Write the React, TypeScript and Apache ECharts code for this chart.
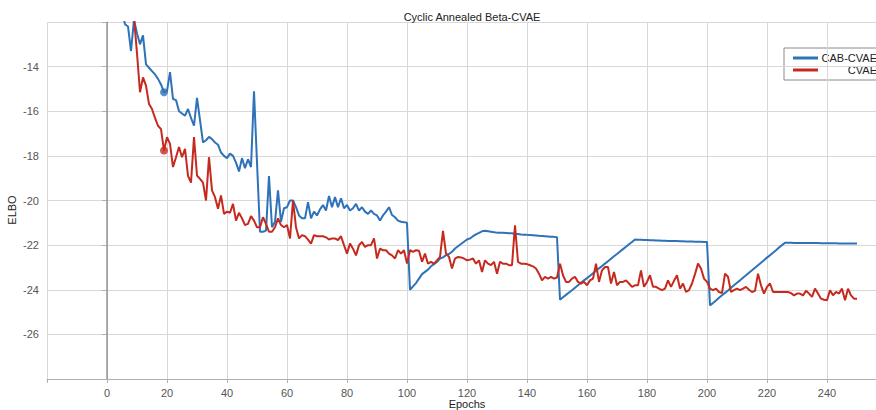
import React, { useEffect, useRef } from "react";
import * as echarts from "echarts";

const title = "Cyclic Annealed Beta-CVAE";
const seriesNames = ["CAB-CVAE", "CVAE"];
const seriesColors = ["#2e72b8", "#c62a1e"];

// epochs 1..250
const epochs: number[] = Array.from({ length: 250 }, (_, i) => i + 1);

const cabCvae: number[] = [
  -9.0, -9.8, -10.5, -11.0, -11.5, -12.1, -12.2, -13.3, -11.9, -12.5,
  -13.0, -12.6, -13.9, -14.05, -14.2, -14.35, -14.55, -14.8, -15.15, -15.1,
  -14.25, -15.45, -15.5, -16.0, -16.1, -16.2, -15.9, -16.3, -16.65, -15.4,
  -16.4, -17.4, -17.3, -17.15, -17.25, -17.4, -17.5, -17.85, -18.0, -18.1,
  -17.9, -18.0, -18.3, -18.7, -18.1, -18.55, -18.15, -18.5, -15.1, -18.3,
  -21.4, -21.4, -21.35, -18.9, -21.2, -20.95, -19.55, -20.95, -20.35, -20.3,
  -20.0, -20.0, -20.3, -20.67, -20.8, -20.8, -20.07, -20.8, -20.5, -20.67,
  -20.4, -20.2, -20.45, -19.8, -20.3, -19.85, -20.3, -19.9, -20.35, -20.2,
  -20.45, -20.35, -20.15, -20.45, -20.3, -20.5, -20.6, -20.45, -20.6, -20.67,
  -20.9, -20.67, -20.5, -20.3, -20.65, -20.75, -20.9, -20.95, -20.97, -21.0,
  -24.0, -23.85, -23.7, -23.5, -23.3, -23.2, -23.1, -22.95, -22.85, -22.75,
  -22.6, -22.55, -22.45, -22.4, -22.3, -22.15, -22.05, -21.95, -21.85, -21.75,
  -21.7, -21.6, -21.52, -21.45, -21.38, -21.36, -21.38, -21.4, -21.42, -21.44,
  -21.45, -21.45, -21.46, -21.47, -21.47, -21.5, -21.5, -21.52, -21.53, -21.54,
  -21.55, -21.56, -21.57, -21.58, -21.59, -21.6, -21.61, -21.62, -21.63, -21.65,
  -24.45, -24.34, -24.23, -24.12, -24.02, -23.91, -23.8, -23.69, -23.58, -23.48,
  -23.37, -23.26, -23.15, -23.04, -22.94, -22.83, -22.72, -22.61, -22.5, -22.4,
  -22.29, -22.18, -22.07, -21.96, -21.86, -21.75, -21.76, -21.76, -21.77, -21.77,
  -21.78, -21.78, -21.79, -21.79, -21.8, -21.8, -21.81, -21.81, -21.82, -21.82,
  -21.83, -21.83, -21.84, -21.84, -21.84, -21.85, -21.85, -21.85, -21.86, -21.86,
  -24.7, -24.59, -24.48, -24.36, -24.25, -24.14, -24.03, -23.91, -23.8, -23.69,
  -23.58, -23.46, -23.35, -23.24, -23.13, -23.01, -22.9, -22.79, -22.68, -22.56,
  -22.45, -22.34, -22.23, -22.11, -22.0, -21.89, -21.89, -21.89, -21.9, -21.9,
  -21.9, -21.9, -21.91, -21.91, -21.91, -21.91, -21.91, -21.92, -21.92, -21.92,
  -21.92, -21.92, -21.92, -21.93, -21.93, -21.93, -21.93, -21.93, -21.93, -21.93,
];

const cvae: number[] = [
  -8.5, -9.2, -9.8, -10.3, -10.8, -11.2, -11.6, -11.9, -11.8, -13.4,
  -15.15, -14.48, -14.85, -15.67, -15.9, -16.3, -16.65, -16.8, -17.76, -17.16,
  -17.46, -18.5, -18.06, -17.6, -18.06, -17.68, -18.9, -19.2, -17.16, -18.88,
  -19.03, -19.2, -20.0, -18.06, -19.55, -19.85, -20.37, -19.77, -20.6, -20.5,
  -20.55, -20.15, -20.9, -20.55, -20.8, -21.1, -21.05, -20.7, -20.9, -21.2,
  -21.2, -20.75, -21.05, -21.4, -21.4, -21.2, -20.8, -21.1, -21.2, -21.1,
  -21.7, -20.0, -21.2, -21.7, -21.55, -21.6, -21.75, -21.93, -21.55, -21.6,
  -21.6, -21.6, -21.65, -21.75, -21.7, -21.7, -21.78, -21.6, -22.0, -22.38,
  -21.93, -22.16, -22.46, -22.0, -21.86, -22.08, -22.0, -22.0, -21.7, -22.6,
  -22.16, -22.23, -22.23, -22.38, -22.46, -22.6, -22.23, -22.38, -22.23, -22.83,
  -22.23, -22.3, -22.23, -22.25, -22.75, -22.38, -22.83, -22.75, -22.83, -22.68,
  -22.53, -21.36, -22.38, -22.53, -23.05, -22.6, -22.53, -22.55, -22.6, -22.68,
  -22.65, -22.6, -22.83, -22.68, -23.2, -22.68, -22.83, -22.9, -22.75, -23.28,
  -22.75, -22.83, -22.83, -22.9, -22.9, -21.11, -22.75, -22.83, -22.83, -22.85,
  -22.9, -22.95, -23.05, -23.28, -23.58, -23.42, -23.5, -23.42, -23.5, -23.45,
  -22.83, -23.35, -23.65, -23.65, -23.5, -23.42, -23.65, -23.72, -23.65, -23.8,
  -23.58, -23.5, -22.83, -23.65, -23.13, -22.98, -22.98, -23.72, -23.2, -23.8,
  -23.65, -23.65, -23.58, -23.72, -23.87, -23.8, -23.8, -23.13, -23.87, -23.65,
  -23.35, -23.87, -23.87, -23.95, -24.02, -23.95, -23.58, -23.87, -23.6, -23.35,
  -23.95, -23.72, -24.1, -24.02, -23.72, -23.3, -22.83, -23.05, -23.5, -23.65,
  -23.95, -24.02, -23.95, -24.1, -24.15, -23.28, -23.42, -24.1, -24.02, -23.95,
  -24.02, -23.95, -23.87, -24.0, -24.1, -24.05, -23.28, -23.8, -24.17, -23.87,
  -23.72, -24.1, -24.1, -24.1, -24.1, -24.1, -24.1, -24.15, -24.25, -24.17,
  -24.17, -24.25, -24.05, -24.17, -24.32, -23.95, -24.17, -24.4, -24.45, -24.47,
  -24.02, -24.25, -24.1, -24.17, -23.95, -24.47, -23.95, -24.25, -24.4, -24.4,
];

// highlighted points
const markerEpoch = [19, 19];
const markerValue = [-15.15, -17.76];

const xTickLabels = [0, 20, 40, 60, 80, 100, 120, 140, 160, 180, 200, 220, 240];
const yTickLabels = [-14, -16, -18, -20, -22, -24, -26];

const FONT = "'Liberation Sans', Arial, sans-serif";

export default function App() {
  const ref = useRef<HTMLDivElement>(null);

  useEffect(() => {
    if (!ref.current) return;
    const chart = echarts.init(ref.current, null, { renderer: "svg" });

    const lineSeries = [cabCvae, cvae].map((vals, k) => ({
      name: seriesNames[k],
      type: "line",
      data: epochs.map((e, i) => [e, vals[i]]),
      showSymbol: false,
      symbol: "none",
      clip: true,
      z: 3 + k,
      lineStyle: { color: seriesColors[k], width: 2 },
      itemStyle: { color: seriesColors[k] },
      markLine:
        k === 0
          ? {
              silent: true,
              symbol: ["none", "none"],
              label: { show: false },
              lineStyle: { color: "#9a9a9a", width: 1.5, type: "solid" },
              data: [{ xAxis: 0 }],
            }
          : undefined,
    }));

    const markerSeries = markerEpoch.map((e, k) => ({
      name: seriesNames[k] + "-marker",
      type: "scatter",
      data: [[e, markerValue[k]]],
      symbol: "circle",
      symbolSize: 8,
      z: 6,
      itemStyle: { color: seriesColors[k] },
    }));

    chart.setOption({
      animation: false,
      backgroundColor: "#ffffff",
      textStyle: { fontFamily: FONT },
      title: {
        text: title,
        left: 467,
        top: 6,
        textAlign: "center",
        textStyle: { fontSize: 11, fontWeight: "normal", color: "#222", fontFamily: FONT },
      },
      grid: { left: 47, top: 22, width: 840, height: 357, containLabel: false },
      xAxis: {
        type: "value",
        min: -20,
        max: 260,
        interval: 20,
        axisLine: { show: true, lineStyle: { color: "#b0b0b0", width: 1 } },
        axisTick: { show: true, length: 4, lineStyle: { color: "#b0b0b0" } },
        splitLine: { show: true, lineStyle: { color: "#d8d8d8", width: 1 } },
        axisLabel: {
          margin: 8,
          fontSize: 11,
          color: "#555",
          fontFamily: FONT,
          formatter: (v: number) => (xTickLabels.indexOf(v) >= 0 ? String(v) : ""),
        },
      },
      yAxis: {
        type: "value",
        min: -28,
        max: -12,
        interval: 2,
        axisLine: { show: true, lineStyle: { color: "#b0b0b0", width: 1 } },
        axisTick: { show: true, length: 5, lineStyle: { color: "#b0b0b0" } },
        splitLine: { show: true, lineStyle: { color: "#d8d8d8", width: 1 } },
        axisLabel: {
          margin: 8,
          fontSize: 11,
          color: "#555",
          fontFamily: FONT,
          formatter: (v: number) => (yTickLabels.indexOf(v) >= 0 ? String(v) : ""),
        },
      },
      graphic: [
        {
          type: "text",
          x: 12,
          y: 210,
          rotation: Math.PI / 2,
          style: {
            text: "ELBO",
            fontSize: 11,
            fill: "#222",
            fontFamily: FONT,
            align: "center",
            verticalAlign: "middle",
          },
        },
        {
          type: "text",
          x: 467,
          y: 404,
          style: {
            text: "Epochs",
            fontSize: 11,
            fill: "#222",
            fontFamily: FONT,
            align: "center",
            verticalAlign: "middle",
          },
        },
        {
          type: "group",
          x: 784,
          y: 48,
          z: 100,
          children: [
            {
              type: "rect",
              shape: { x: 0, y: 0, width: 98, height: 32 },
              style: { fill: "#ffffff", stroke: "#8a8a8a", lineWidth: 1 },
            },
            {
              type: "line",
              shape: { x1: 9, y1: 10, x2: 34, y2: 10 },
              style: { stroke: seriesColors[0], lineWidth: 3 },
            },
            {
              type: "line",
              shape: { x1: 9, y1: 22, x2: 34, y2: 22 },
              style: { stroke: seriesColors[1], lineWidth: 3 },
            },
            {
              type: "text",
              x: 93,
              y: 10,
              style: {
                text: seriesNames[0],
                fontSize: 11,
                fill: "#222",
                fontFamily: FONT,
                align: "right",
                verticalAlign: "middle",
              },
            },
            {
              type: "text",
              x: 93,
              y: 22,
              style: {
                text: seriesNames[1],
                fontSize: 11,
                fill: "#222",
                fontFamily: FONT,
                align: "right",
                verticalAlign: "middle",
              },
            },
          ],
        },
      ],
      series: [...lineSeries, ...markerSeries],
    });

    return () => chart.dispose();
  }, []);

  return (
    <div
      style={{
        position: "fixed",
        left: 0,
        top: 0,
        width: 876,
        height: 410,
        overflow: "hidden",
        background: "#fff",
      }}
    >
      <div ref={ref} style={{ width: 900, height: 410 }} />
    </div>
  );
}
